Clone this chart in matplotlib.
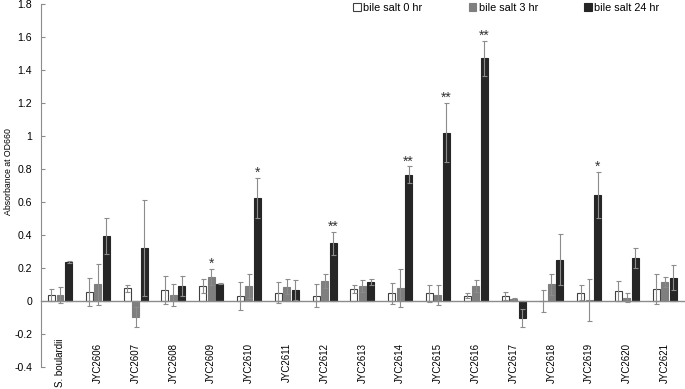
import matplotlib
matplotlib.use("Agg")
import matplotlib.pyplot as plt
import numpy as np

categories = ["S. boulardii", "JYC2606", "JYC2607", "JYC2608", "JYC2609", "JYC2610",
              "JYC2611", "JYC2612", "JYC2613", "JYC2614", "JYC2615", "JYC2616",
              "JYC2617", "JYC2618", "JYC2619", "JYC2620", "JYC2621"]
series_names = ["bile salt 0 hr", "bile salt 3 hr", "bile salt 24 hr"]

v0 = [0.035, 0.055, 0.075, 0.065, 0.09, 0.03, 0.05, 0.03, 0.07, 0.045, 0.045, 0.03,
      0.03, 0.0, 0.05, 0.06, 0.072]
e0 = [0.035, 0.085, 0.02, 0.085, 0.045, 0.085, 0.065, 0.07, 0.025, 0.065, 0.05, 0.015,
      0.025, 0.065, 0.045, 0.06, 0.09]
v3 = [0.035, 0.10, -0.10, 0.035, 0.145, 0.09, 0.085, 0.12, 0.09, 0.08, 0.035, 0.09,
      0.01, 0.10, 0.005, 0.02, 0.115]
e3 = [0.05, 0.125, 0.06, 0.065, 0.05, 0.075, 0.045, 0.04, 0.035, 0.115, 0.06, 0.035,
      0.01, 0.065, 0.125, 0.03, 0.03]
v24 = [0.235, 0.395, 0.32, 0.09, 0.105, 0.625, 0.065, 0.35, 0.115, 0.765, 1.02, 1.47,
       -0.105, 0.25, 0.64, 0.26, 0.14]
e24 = [0.005, 0.11, 0.29, 0.06, 0.005, 0.12, 0.06, 0.07, 0.02, 0.05, 0.18, 0.105,
       0.055, 0.155, 0.14, 0.06, 0.075]
# significance marks: (category index, series index, label)
sig = [(4, 1, "*"), (5, 2, "*"), (7, 2, "**"), (9, 2, "**"), (10, 2, "**"),
       (11, 2, "**"), (14, 2, "*")]

yticks = [-0.4, -0.2, 0, 0.2, 0.4, 0.6, 0.8, 1.0, 1.2, 1.4, 1.6, 1.8]
ytick_labels = ["-0.4", "-0.2", "0", "0.2", "0.4", "0.6", "0.8", "1", "1.2", "1.4", "1.6", "1.8"]

plt.rcParams['font.family'] = ['Liberation Sans', 'DejaVu Sans']

fig = plt.figure(figsize=(6.85, 3.89), dpi=100)
ax = fig.add_axes([0.06, 0.057, 0.938, 0.933])

x = np.arange(len(categories))
offs = [-0.225, 0.0, 0.225]
w = 0.185
vals = [v0, v3, v24]
errs = [e0, e3, e24]
faces = ["white", "#7f7f7f", "#262626"]
edges = ["#404040", "#7f7f7f", "#262626"]
for i in range(3):
    ax.bar(x + offs[i], vals[i], w, color=faces[i], edgecolor=edges[i], linewidth=0.8,
           label=series_names[i], zorder=2)
    ax.errorbar(x + offs[i], vals[i], yerr=errs[i], fmt='none', ecolor="#8c8c8c",
                elinewidth=0.8, capsize=1.8, capthick=0.8, zorder=3)

for ci, si, lab in sig:
    yv = vals[si][ci] + errs[si][ci]
    ax.annotate(lab, (x[ci] + offs[si], yv), xytext=(0, -1.5), textcoords='offset points',
                ha='center', va='bottom', fontsize=10, color="#333333")

ax.set_xlim(-0.5, len(categories) - 0.5)
ax.set_ylim(-0.4, 1.8)
ax.set_yticks(yticks)
ax.set_yticklabels(ytick_labels)
ax.set_xticks(x)
ax.set_xticklabels(categories)

for s in ["top", "right"]:
    ax.spines[s].set_visible(False)
ax.spines["bottom"].set_position(("data", 0))
ax.spines["bottom"].set_color("#8c8c8c")
ax.spines["bottom"].set_linewidth(1.0)
ax.spines["left"].set_color("#8c8c8c")
ax.spines["left"].set_linewidth(0.8)
ax.tick_params(axis='x', length=0, pad=44.5, labelsize=7.0, labelrotation=90)
ax.tick_params(axis='y', direction='in', length=3, width=0.8, color="#8c8c8c",
               labelsize=7.6, pad=6.5)
for t in ax.get_xticklabels():
    t.set_rotation(90)
    t.set_va('center')
    t.set_ha('center')
ax.set_ylabel("Absorbance at OD660", fontsize=6.3)
ax.yaxis.set_label_coords(-0.0436, 0.537)

ax.legend(loc='upper left', bbox_to_anchor=(0.486, 1.003), ncol=3, frameon=False,
          borderpad=0, borderaxespad=0,
          handlelength=0.7, handleheight=0.7, handletextpad=0.2, columnspacing=4.3,
          fontsize=7.8)

fig.savefig("out.png", dpi=100)
